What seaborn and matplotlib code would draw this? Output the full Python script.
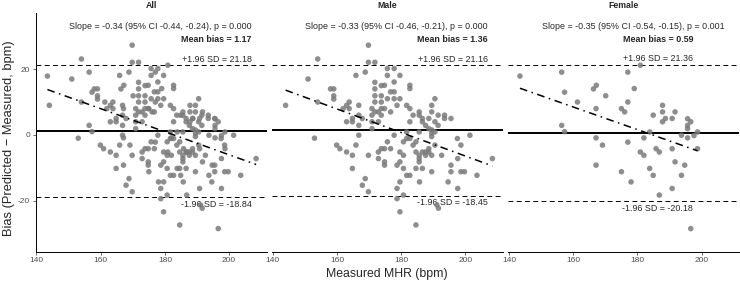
import pandas as pd
import seaborn as sns
import matplotlib
matplotlib.use('Agg')
import matplotlib.pyplot as plt

# measured MHR (x) and bias (y)
male_mhr = [169.8, 154, 169.8, 171.8, 151, 165.9, 168.8, 171.8, 171.8, 173.8,
            158, 159, 159, 159, 154, 144, 163.8, 163, 161.9, 163.8,
            166.8, 166.8, 171.8, 171.8, 173.8, 173.8, 170.9, 171.8, 172.9, 173.8,
            170.9, 173.8, 164.8, 167.9, 164.8, 163, 166.8, 170.9, 172.9, 170.9,
            153, 166.8,
            159.9, 160.9, 163, 164.8, 165.9, 169.8, 164.8, 168.8, 167.9, 169.8,
            172.9, 173.8, 172.9, 174.8, 174.8,
            175.7, 177.8, 175.7, 179.6, 177.8, 174.8, 176.7, 177.8, 182.7, 182.7,
            175.7, 177.8, 179.6, 174.8, 178.7, 181.7, 182.7, 176.7, 183.7, 182.7,
            185.6, 185.6, 186.6, 186.6, 188.6, 190.5, 189.5, 189.5, 191.5, 190.5,
            193.5, 193.5, 195.5, 191.5, 187.6, 188.6, 185.6, 177.8, 181.7, 190.5,
            197.5, 201.4,
            175.7, 174.8, 176.7, 178.7, 179.6, 180.7, 179.6, 180.7, 181.7, 182.7,
            183.7, 184.6, 180.7, 181.7, 182.7, 184.6, 186.6, 185.6, 185.6, 185.6,
            184.6, 186.6, 187.6, 188.6, 188.6, 187.6, 189.5, 189.5, 189.5, 189.5,
            190.5, 192.6, 189.5, 185.7, 179.6, 178.7, 180.7, 178.7, 179.6, 184.6,
            195.5, 198.6, 197.6, 195.5, 198.6, 199.7, 194.6, 197.6, 203.6, 208.4,
            191.1, 191.6]
male_bias = [27.3, 23.1, 22.1, 22.1, 17, 18.1, 19.1, 16, 14, 15,
             14, 14, 11.9, 10.9, 10, 9, 10, 9, 8, 8,
             9, 6, 11.9, 10, 11.9, 10, 8, 7, 7, 8,
             6, 6, 5, 5, 4, 4, 2.9, 4, 4, 1.9,
             -1, -0.1,
             -3.1, -4.2, -5.2, -6.2, -3.1, -6.2, -10.2, -13.3, -15.3, -17.3,
             -5.2, -4.2, -7.2, -8.2, -9.2,
             20.2, 20.2, 18.1, 18.1, 16.1, 15.1, 13.1, 13.1, 15.1, 14.1,
             11, 11, 11, 8, 9, 9, 8, 7, 6, 4,
             7, 6, 5, 4, 5, 11, 9, 7, 6, 4,
             6, 5, 5, 2.9, 2.9, 1.9, 0.9, -0.1, 0.9, 0.9,
             -1.1, -0.1,
             -2.1, -4.2, -4.2, -9.2, -8.2, -2.1, -5.2, -6.2, -1.1, -1.1,
             -3.1, -2.1, -10.2, -12.3, -12.3, -10.2, -10.2, -6.2, -7.2, -8.2,
             -5.2, -5.2, -5.2, -4.2, -5.2, -6.2, -6.2, 1.5, 0.5, -0.5,
             -3.1, -6.2, -11.2, -14.3, -14.3, -16.3, -18.3, -19.4, -23.4, -27.4,
             -9.2, -3.1, -7.2, -11.2, -11.2, -11.2, -14.3, -16.3, -12.3, -7.2,
             -21.3, -22.3]

female_mhr = [143.4, 156.4, 157.3, 166.3, 167.2, 170.1, 161.3, 167.1, 156.4, 157.3,
              167.1, 169.1, 167.1, 177, 180.9, 179, 177, 175, 176, 187.8,
              187.8, 191.7, 184.9, 188.7, 190.8, 187.8, 195.6, 196.6, 195.6, 195.6,
              198.7, 183.8, 182, 193.7, 195.6, 197.6, 177, 180.9, 182, 185.8,
              186.8, 190.8, 198.7, 191.7, 194.7, 183.8, 184.9, 193.7, 175, 178,
              190.8, 186.8, 196.6]
female_bias = [17.9, 19.1, 13, 14, 15.1, 11.9, 10, 8, 2.9, 1,
               -0.9, -3.1, -9.2, 19.1, 21.2, 14.1, 10, 8, 7, 9,
               7, 7, 6, 5, 5, 4, 4.9, 4, 2.9, 1.9,
               0.9, 0.9, -0.9, -0.1, -0.9, -0.2, -2.2, -5.2, -6.2, -4.2,
               -5.2, -4.2, -4.2, -8.2, -9.2, -10.2, -12.3, -12.3, -11.2, -14.3,
               -16.3, -18.3, -28.5]

# 패널별 통계값
panels = ['All', 'Male', 'Female']
mean_bias = [1.17, 1.36, 0.59]
upper_loa = [21.18, 21.16, 21.36]
lower_loa = [-18.84, -18.45, -20.18]
slope_text = ['Slope = -0.34 (95% CI -0.44, -0.24), p = 0.000',
              'Slope = -0.33 (95% CI -0.46, -0.21), p = 0.000',
              'Slope = -0.35 (95% CI -0.54, -0.15), p = 0.001']
label_x = [207, 207, 197.3]

male = pd.DataFrame({'mhr': male_mhr, 'bias': male_bias})
female = pd.DataFrame({'mhr': female_mhr, 'bias': female_bias})
data = {'All': pd.concat([male, female]), 'Male': male, 'Female': female}

sns.set_style('ticks')
plt.rcParams['font.family'] = ['Liberation Sans', 'DejaVu Sans']
plt.rcParams['axes.unicode_minus'] = False

fig, axes = plt.subplots(1, 3, figsize=(7.4, 2.83), dpi=100, sharey=True)
fig.subplots_adjust(left=0.048, right=0.999, bottom=0.111, top=0.953, wspace=0.022)

for i, (ax, name) in enumerate(zip(axes, panels)):
    d = data[name]
    # 평균 편향, 일치 한계
    ax.axhline(mean_bias[i], color='black', lw=1.4, zorder=2)
    ax.axhline(upper_loa[i], color='black', lw=0.7, ls=(0, (5, 3.5)), zorder=2)
    ax.axhline(lower_loa[i], color='black', lw=0.7, ls=(0, (5, 3.5)), zorder=2)

    sns.scatterplot(data=d, x='mhr', y='bias', color='#7a7a7a', alpha=0.85,
                    s=16, edgecolor='none', ax=ax, zorder=3)
    sns.regplot(data=d, x='mhr', y='bias', scatter=False, ci=None, ax=ax,
                line_kws=dict(color='black', lw=1.1, ls=(0, (5, 3, 1, 3)), zorder=4))

    ax.text(207, 33.1, slope_text[i], ha='right', va='center', fontsize=6.4, zorder=1)
    ax.text(label_x[i], 29.1, f'Mean bias = {mean_bias[i]:.2f}', ha='right',
            va='center', fontsize=6.4, fontweight='bold', zorder=1)
    ax.text(label_x[i], upper_loa[i] + 1.9, f'+1.96 SD = {upper_loa[i]:.2f}',
            ha='right', va='center', fontsize=6.4, zorder=1)
    ax.text(label_x[i], lower_loa[i] - 2.2, f'-1.96 SD = {lower_loa[i]:.2f}',
            ha='right', va='center', fontsize=6.4, zorder=1)

    ax.set_xlim(139.7, 211.7)
    ax.set_ylim(-35.5, 37)
    ax.set_xticks([140, 160, 180, 200])
    ax.set_yticks([-20, 0, 20])
    ax.set_title(name, fontsize=6.3, fontweight='bold', pad=4)
    ax.set_xlabel('')
    ax.set_ylabel('')
    ax.tick_params(labelsize=6, colors='#4d4d4d', length=2.5, width=0.6, pad=1.5)
    for sp in ax.spines.values():
        sp.set_linewidth(0.7)
        sp.set_color('black')
    if i == 0:
        sns.despine(ax=ax)
    else:
        sns.despine(ax=ax, left=True)
        ax.tick_params(axis='y', left=False)

fig.text(0.012, 0.512, 'Bias (Predicted \u2212 Measured, bpm)', rotation=90,
         ha='center', va='center', fontsize=9.3)
fig.text(0.523, 0.021, 'Measured MHR (bpm)', ha='center', va='baseline', fontsize=8.8)

plt.savefig('out.png', dpi=100)
